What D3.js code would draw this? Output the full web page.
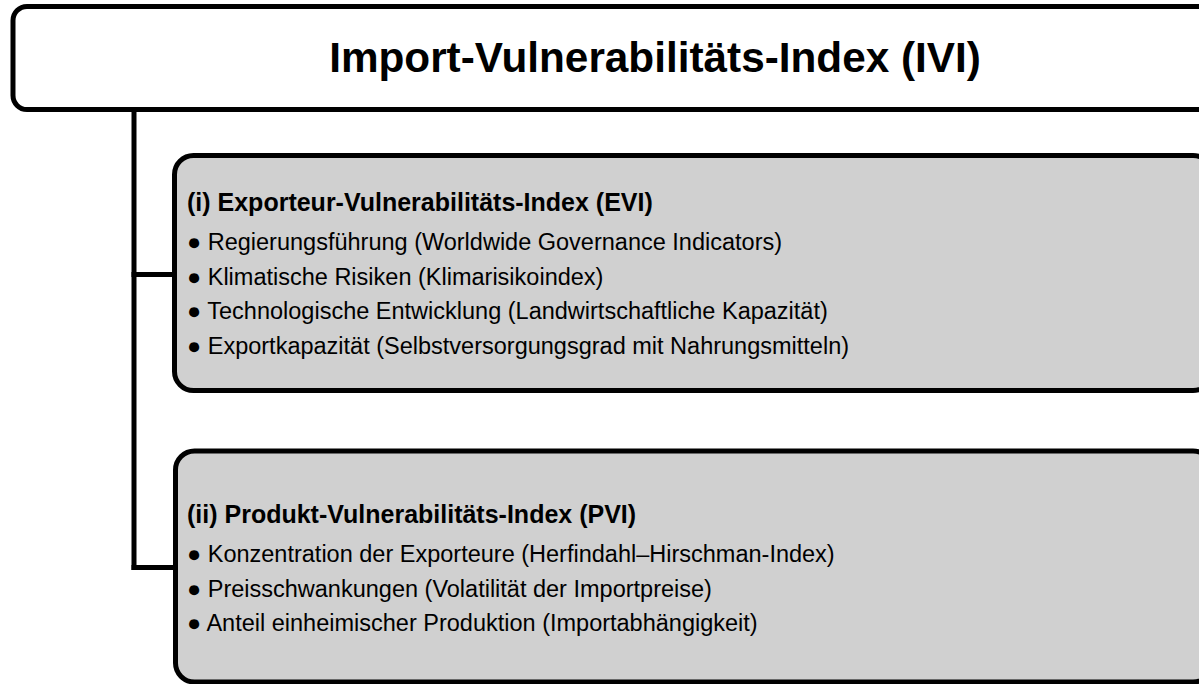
<!DOCTYPE html>
<html>
<head>
<meta charset="utf-8">
<script src="https://cdn.jsdelivr.net/npm/d3@7"></script>
<style>
  body { margin: 0; background: #fff; }
  svg text { font-family: "Liberation Sans", Arial, sans-serif; fill: #000; }
</style>
</head>
<body>
<div id="chart"></div>
<script>
// content of the diagram
var title = "Import-Vulnerabilitäts-Index (IVI)";
var headings = ["(i) Exporteur-Vulnerabilitäts-Index (EVI)", "(ii) Produkt-Vulnerabilitäts-Index (PVI)"];
var eviItems = [
    "Regierungsführung (Worldwide Governance Indicators)",
    "Klimatische Risiken (Klimarisikoindex)",
    "Technologische Entwicklung (Landwirtschaftliche Kapazität)",
    "Exportkapazität (Selbstversorgungsgrad mit Nahrungsmitteln)"
];
var pviItems = [
    "Konzentration der Exporteure (Herfindahl–Hirschman-Index)",
    "Preisschwankungen (Volatilität der Importpreise)",
    "Anteil einheimischer Produktion (Importabhängigkeit)"
];
var groups = [eviItems, pviItems];

const width = 1199, height = 684;
const sw = 5;

var svg = d3.select("#chart").append("svg")
    .attr("width", width)
    .attr("height", height);

// layout in pixels
var boxTop = [155.5, 451],
    boxBottom = [390.5, 682],
    boxLeft = [174.5, 175.5],
    boxRight = 1212,
    headBase = [211, 523],
    lineGap = 34.5;

// trunk line from title box down to the second branch
var trunkX = 134;
svg.append("line")
    .attr("x1", trunkX).attr("x2", trunkX)
    .attr("y1", 109).attr("y2", 567.5 + sw / 2)
    .attr("stroke", "#000").attr("stroke-width", sw);

var branchY = [274.5, 567.5];
svg.selectAll(".branch")
    .data(branchY)
    .enter().append("line")
    .attr("class", "branch")
    .attr("x1", trunkX - sw / 2)
    .attr("x2", (d, i) => boxLeft[i])
    .attr("y1", d => d).attr("y2", d => d)
    .attr("stroke", "#000").attr("stroke-width", sw);

// title box
svg.append("rect")
    .attr("x", 13).attr("y", 6.5)
    .attr("width", 1250).attr("height", 103)
    .attr("rx", 14).attr("ry", 14)
    .attr("fill", "#fff").attr("stroke", "#000").attr("stroke-width", sw);

svg.append("text")
    .attr("x", 655).attr("y", 72)
    .attr("text-anchor", "middle")
    .attr("font-weight", "bold")
    .attr("font-size", 42.3)
    .text(title);

// sub boxes
groups.forEach(function(items, i) {
    var g = svg.append("g").attr("class", "box");

    g.append("rect")
        .attr("x", boxLeft[i]).attr("y", boxTop[i])
        .attr("width", boxRight - boxLeft[i])
        .attr("height", boxBottom[i] - boxTop[i])
        .attr("rx", 19).attr("ry", 19)
        .attr("fill", "#d0d0d0").attr("stroke", "#000").attr("stroke-width", sw);

    g.append("text")
        .attr("x", 187).attr("y", headBase[i])
        .attr("font-weight", "bold")
        .attr("font-size", 25)
        .text(headings[i]);

    var yScale = d3.scaleLinear()
        .domain([0, 1])
        .range([headBase[i] + 39, headBase[i] + 39 + lineGap]);

    g.selectAll(".item")
        .data(items)
        .enter().append("text")
        .attr("class", "item")
        .attr("x", 187)
        .attr("y", (d, j) => yScale(j))
        .attr("font-size", 23.5)
        .text(d => "\u25CF " + d);
});
</script>
</body>
</html>
